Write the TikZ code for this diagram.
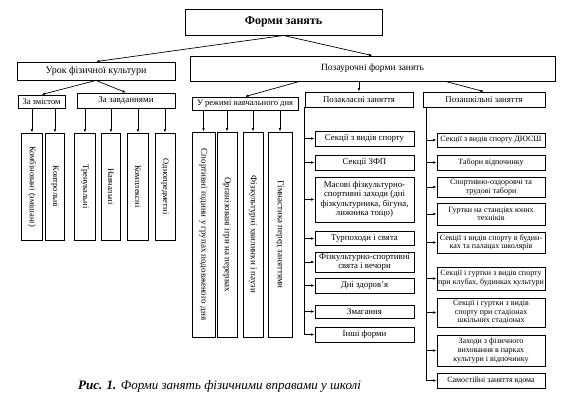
\documentclass[tikz,border=0pt]{standalone}
\usepackage{fontspec}
\setmainfont{Liberation Serif}
\usetikzlibrary{arrows.meta}
\begin{document}
\begin{tikzpicture}[x=1pt,y=-1pt,
  bx/.style={draw, line width=0.8pt, inner sep=0pt, align=center, font=\fontsize{8}{8.6}\selectfont},
  mbx/.style={bx, font=\fontsize{8.8}{9.4}\selectfont},
  vbx/.style={draw, line width=0.8pt, inner sep=0pt},
  vtxt/.style={rotate=-90, inner sep=0pt, font=\fontsize{8.5}{9}\selectfont},
  rtxt/.style={vtxt, font=\fontsize{9}{9.5}\selectfont},
  arr/.style={line width=0.7pt, -{Latex[length=3.5pt,width=2.6pt]}},
  ln/.style={line width=0.7pt}]
\useasboundingbox (0,0) rectangle (565,413);

% top level
\node[bx, line width=1pt, minimum width=197, minimum height=26, font=\bfseries\fontsize{12}{13}\selectfont] (title) at (283.5,22) {Форми занять};
\node[bx, minimum width=158, minimum height=18, font=\fontsize{10}{11}\selectfont] (urok) at (96,71) {Урок фізичної культури};
\node[bx, minimum width=365, minimum height=25, font=\fontsize{9.5}{10}\selectfont] (pozaur) at (372.5,68.5) {Позаурочні форми занять};

% lesson branch
\node[bx, minimum width=47, minimum height=13, font=\fontsize{8.5}{9}\selectfont] (zmist) at (41.5,101.5) {За змістом};
\node[bx, minimum width=98, minimum height=15, font=\fontsize{9}{10}\selectfont] (zavd) at (126,100.5) {За завданнями};

\node[vbx, minimum width=21, minimum height=107] (l1) at (32,186.5) {};
\node[vtxt] (l1t) at (l1.center) {Комбіновані (змішані)};
\node[vbx, minimum width=19, minimum height=107] (l2) at (55,186.5) {};
\node[vtxt] (l2t) at (l2.center) {Контрольні};
\node[vbx, minimum width=21, minimum height=107] (l3) at (85,186.5) {};
\node[vtxt] (l3t) at (l3.center) {Тренувальні};
\node[vbx, minimum width=19, minimum height=107] (l4) at (111,186.5) {};
\node[vtxt] (l4t) at (l4.center) {Навчальні};
\node[vbx, minimum width=21, minimum height=107] (l5) at (138,186.5) {};
\node[vtxt] (l5t) at (l5.center) {Комплексні};
\node[vbx, minimum width=20, minimum height=107] (l6) at (165,186.5) {};
\node[vtxt] (l6t) at (l6.center) {Однопредметні};

% out-of-lesson branch
\node[bx, minimum width=106, minimum height=13, font=\fontsize{8.5}{9}\selectfont] (regime) at (245,103.5) {У режимі навчального дня};
\node[mbx, minimum width=108, minimum height=15] (pozaklas) at (359,99.5) {Позакласні заняття};
\node[mbx, minimum width=122, minimum height=15] (pozashk) at (484,99.5) {Позашкільні заняття};

\node[vbx, minimum width=23, minimum height=205] (r1) at (203.5,234.5) {};
\node[rtxt] (r1t) at (r1.center) {Спортивні години у групах подовженого дня};
\node[vbx, minimum width=20, minimum height=205] (r2) at (227,234.5) {};
\node[rtxt] (r2t) at (r2.center) {Організовані ігри на перервах};
\node[vbx, minimum width=20, minimum height=205] (r3) at (253,234.5) {};
\node[rtxt] (r3t) at (r3.center) {Фізкультурні хвилинки і паузи};
\node[vbx, minimum width=24, minimum height=205] (r4) at (280,234.5) {};
\node[rtxt] (r4t) at (r4.center) {Гімнастика перед заняттями};

% middle column
\node[mbx, minimum width=99, minimum height=15] (m1) at (364.5,138.5) {Секції з видів спорту};
\node[mbx, minimum width=99, minimum height=15] (m2) at (364.5,162.5) {Секції ЗФП};
\node[mbx, minimum width=99, minimum height=45] (m3) at (364.5,199.5) {Масові фізкультурно-\\спортивні заходи (дні\\фізкультурника, бігуна,\\лижника тощо)};
\node[mbx, minimum width=99, minimum height=14] (m4) at (364.5,238.5) {Турпоходи і свята};
\node[mbx, minimum width=99, minimum height=20] (m5) at (364.5,262) {Фізкультурно-спортивні\\свята і вечори};
\node[mbx, minimum width=99, minimum height=15] (m6) at (364.5,285.5) {Дні здоров'я};
\node[mbx, minimum width=99, minimum height=13] (m7) at (364.5,311.5) {Змагання};
\node[mbx, minimum width=99, minimum height=15] (m8) at (364.5,334.5) {Інші форми};

% right column
\node[bx, minimum width=108, minimum height=14] (p1) at (491,140) {Секції з видів спорту ДЮСШ};
\node[bx, minimum width=108, minimum height=15] (p2) at (491,162.5) {Табори відпочинку};
\node[bx, minimum width=108, minimum height=20] (p3) at (491,187) {Спортивно-оздоровчі та\\трудові табори};
\node[bx, minimum width=108, minimum height=22] (p4) at (491,214) {Гуртки на станціях юних\\техніків};
\node[bx, minimum width=108, minimum height=21] (p5) at (491,242.5) {Секції з видів спорту в будин-\\ках та палацах школярів};
\node[bx, minimum width=108, minimum height=23] (p6) at (491,278.5) {Секції і гуртки з видів спорту\\при клубах, будинках культури};
\node[bx, minimum width=108, minimum height=29] (p7) at (491,312.5) {Секції і гуртки з видів\\спорту при стадіонах\\шкільних стадіонах};
\node[bx, minimum width=108, minimum height=31] (p8) at (491,350.5) {Заходи з фізичного\\виховання в парках\\культури і відпочинку};
\node[bx, minimum width=108, minimum height=15] (p9) at (491,380.5) {Самостійні заняття вдома};

% caption
\node[anchor=west, inner sep=0pt, font=\itshape\fontsize{13}{14}\selectfont] (cap) at (78,386) {\textbf{Рис. 1.} Форми занять фізичними вправами у школі};

% connectors
\draw[arr] (title.south) -- (urok.north);
\draw[arr] (title.south) -- (pozaur.north);
\draw[arr] (urok.south) -- (zmist.north);
\draw[arr] (urok.south) -- (zavd.north);
\foreach \n in {l1,l2}{\draw[arr] (\n.north |- zmist.south) -- (\n.north);}
\foreach \n in {l3,l4,l5,l6}{\draw[arr] (\n.north |- zavd.south) -- (\n.north);}

\draw[arr] ([xshift=110pt]pozaur.south west) -- (regime.north);
\draw[arr] (pozaklas.north |- pozaur.south) -- (pozaklas.north);
\draw[arr] ([xshift=-110pt]pozaur.south east) -- (pozashk.north);
\foreach \n in {r1,r2,r3,r4}{\draw[arr] (\n.north |- regime.south) -- (\n.north);}

\coordinate (ms) at (pozaklas.south west);
\draw[ln] (ms) -- (ms |- m8.west);
\foreach \n in {m1,m2,m3,m4,m5,m6,m7,m8}{\draw[arr] (ms |- \n.west) -- (\n.west);}

\coordinate (rs) at ([xshift=4pt]pozashk.south west);
\draw[ln] (rs) -- (rs |- p9.west);
\foreach \n in {p1,p2,p3,p4,p5,p6,p7,p8,p9}{\draw[arr] (rs |- \n.west) -- (\n.west);}
\end{tikzpicture}
\end{document}
